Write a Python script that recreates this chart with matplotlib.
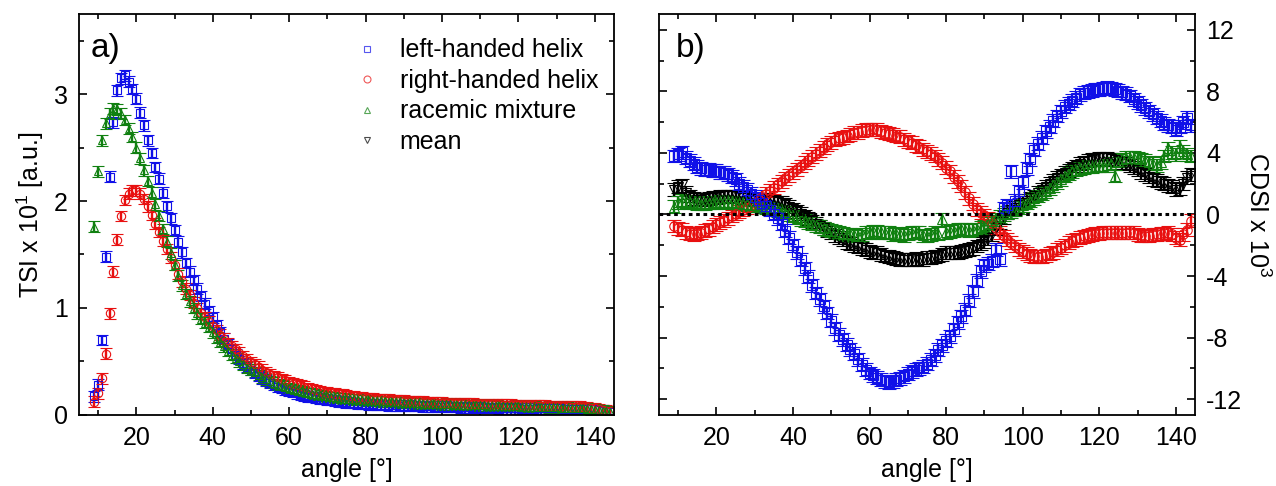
import numpy as np
import matplotlib
matplotlib.use("Agg")
import matplotlib.pyplot as plt
from matplotlib.lines import Line2D
from matplotlib.ticker import MultipleLocator

plt.rcParams['font.family'] = ['Liberation Sans', 'DejaVu Sans']
plt.rcParams['mathtext.fontset'] = 'custom'
plt.rcParams['mathtext.rm'] = 'Liberation Sans'
plt.rcParams['axes.unicode_minus'] = False

# ---------------- data ----------------
angle = list(range(9, 145))  # scattering angle [deg]

# panel a: TSI x 10^1
tsi_left = [
    0.17, 0.28, 0.70, 1.48, 2.23, 2.74, 3.04, 3.15, 3.18, 3.12,
    3.05, 2.96, 2.83, 2.71, 2.57, 2.45, 2.32, 2.21, 2.08, 1.95,
    1.84, 1.73, 1.62, 1.52, 1.42, 1.34, 1.26, 1.18, 1.11, 1.04,
    0.97, 0.91, 0.84, 0.77, 0.71, 0.66, 0.61, 0.56, 0.52, 0.48,
    0.45, 0.42, 0.39, 0.36, 0.34, 0.32, 0.30, 0.28, 0.26, 0.25,
    0.23, 0.22, 0.21, 0.20, 0.19, 0.18, 0.17, 0.165, 0.16, 0.15,
    0.145, 0.14, 0.135, 0.13, 0.125, 0.12, 0.115, 0.11, 0.108, 0.105,
    0.10, 0.098, 0.096, 0.094, 0.092, 0.09, 0.088, 0.087, 0.086, 0.085,
    0.084, 0.083, 0.082, 0.081, 0.080, 0.079, 0.078, 0.077, 0.076, 0.075,
    0.074, 0.073, 0.072, 0.071, 0.070, 0.069, 0.068, 0.067, 0.066, 0.065,
    0.064, 0.063, 0.062, 0.061, 0.060, 0.060, 0.059, 0.059, 0.058, 0.058,
    0.057, 0.057, 0.056, 0.056, 0.056, 0.056, 0.057, 0.058, 0.058, 0.058,
    0.058, 0.058, 0.057, 0.056, 0.055, 0.054, 0.054, 0.055, 0.056, 0.055,
    0.052, 0.048, 0.042, 0.036, 0.030, 0.025]
tsi_right = [
    0.12, 0.20, 0.34, 0.57, 0.95, 1.34, 1.64, 1.86, 2.01, 2.07,
    2.10, 2.10, 2.07, 2.02, 1.95, 1.87, 1.79, 1.71, 1.63, 1.55,
    1.47, 1.40, 1.32, 1.25, 1.18, 1.12, 1.05, 1.00, 0.95, 0.91,
    0.87, 0.83, 0.79, 0.75, 0.71, 0.67, 0.64, 0.61, 0.58, 0.55,
    0.52, 0.49, 0.47, 0.45, 0.42, 0.40, 0.38, 0.36, 0.35, 0.33,
    0.32, 0.30, 0.29, 0.28, 0.27, 0.26, 0.25, 0.24, 0.23, 0.22,
    0.21, 0.205, 0.20, 0.195, 0.19, 0.185, 0.18, 0.175, 0.17, 0.165,
    0.16, 0.156, 0.152, 0.148, 0.145, 0.142, 0.14, 0.138, 0.136, 0.134,
    0.132, 0.13, 0.128, 0.126, 0.124, 0.122, 0.12, 0.118, 0.116, 0.114,
    0.112, 0.11, 0.109, 0.108, 0.107, 0.106, 0.105, 0.104, 0.103, 0.102,
    0.10, 0.099, 0.098, 0.097, 0.096, 0.095, 0.094, 0.093, 0.092, 0.091,
    0.09, 0.089, 0.088, 0.087, 0.086, 0.085, 0.084, 0.083, 0.082, 0.081,
    0.08, 0.079, 0.078, 0.077, 0.076, 0.075, 0.074, 0.072, 0.07, 0.066,
    0.062, 0.057, 0.05, 0.042, 0.035, 0.03]
tsi_racemic = [
    1.76, 2.28, 2.57, 2.73, 2.82, 2.87, 2.86, 2.82, 2.76, 2.68,
    2.60, 2.50, 2.40, 2.29, 2.19, 2.08, 1.97, 1.86, 1.74, 1.62,
    1.51, 1.40, 1.30, 1.21, 1.13, 1.06, 1.00, 0.95, 0.90, 0.86,
    0.82, 0.77, 0.72, 0.68, 0.64, 0.60, 0.56, 0.53, 0.50, 0.47,
    0.44, 0.42, 0.40, 0.37, 0.35, 0.33, 0.31, 0.30, 0.28, 0.27,
    0.26, 0.25, 0.24, 0.23, 0.22, 0.21, 0.20, 0.195, 0.19, 0.18,
    0.175, 0.17, 0.165, 0.16, 0.155, 0.15, 0.147, 0.144, 0.141, 0.138,
    0.135, 0.132, 0.13, 0.128, 0.126, 0.124, 0.122, 0.12, 0.118, 0.116,
    0.114, 0.112, 0.11, 0.108, 0.106, 0.104, 0.102, 0.10, 0.099, 0.098,
    0.097, 0.096, 0.095, 0.094, 0.093, 0.092, 0.091, 0.09, 0.089, 0.088,
    0.087, 0.086, 0.085, 0.084, 0.083, 0.082, 0.081, 0.08, 0.079, 0.078,
    0.077, 0.076, 0.075, 0.074, 0.073, 0.072, 0.071, 0.07, 0.069, 0.068,
    0.067, 0.066, 0.065, 0.064, 0.063, 0.062, 0.061, 0.06, 0.058, 0.055,
    0.05, 0.045, 0.04, 0.035, 0.03, 0.025]

# panel b: CDSI x 10^3
cdsi_left = [
    3.8, 3.9, 4.05, 3.7, 3.5, 3.3, 3.1, 3.0, 2.9, 2.9,
    2.85, 2.85, 2.75, 2.7, 2.6, 2.45, 2.3, 2.0, 1.8, 1.6,
    1.35, 1.15, 0.95, 0.75, 0.55, 0.3, 0.05, -0.25, -0.6, -1.05,
    -1.5, -2.0, -2.45, -2.95, -3.5, -4.05, -4.6, -5.1, -5.5, -5.95,
    -6.4, -6.9, -7.4, -7.8, -8.1, -8.45, -8.75, -9.05, -9.4, -9.75,
    -10.1, -10.3, -10.45, -10.6, -10.75, -10.85, -10.9, -10.85, -10.75, -10.65,
    -10.5, -10.35, -10.2, -10.1, -10.0, -9.9, -9.7, -9.45, -9.15, -8.8,
    -8.5, -8.2, -7.9, -7.45, -7.0, -6.6, -6.2, -5.6, -5.0, -4.3,
    -3.7, -3.3, -3.2, -3.0, -2.3, -2.9, 0.4, 0.6, 2.8, 0.9,
    1.5, 2.1, 3.0, 3.6, 4.2, 4.6, 5.0, 5.4, 5.7, 6.1,
    6.4, 6.7, 7.0, 7.2, 7.4, 7.6, 7.8, 7.9, 8.0, 8.05,
    8.1, 8.15, 8.2, 8.25, 8.2, 8.15, 8.05, 7.95, 7.85, 7.7,
    7.5, 7.3, 7.1, 6.9, 6.7, 6.5, 6.3, 6.1, 5.9, 5.8,
    5.7, 5.5, 5.7, 6.0, 6.3, 5.8]
cdsi_right = [
    -0.75, -0.9, -1.0, -1.15, -1.25, -1.3, -1.25, -1.2, -1.05, -0.95,
    -0.8, -0.65, -0.5, -0.4, -0.25, -0.1, 0.05, 0.2, 0.3, 0.45,
    0.55, 0.75, 0.95, 1.15, 1.35, 1.55, 1.75, 1.95, 2.15, 2.35,
    2.55, 2.75, 2.95, 3.15, 3.35, 3.55, 3.75, 3.95, 4.15, 4.35,
    4.55, 4.7, 4.85, 4.95, 5.0, 5.1, 5.2, 5.3, 5.35, 5.45,
    5.5, 5.52, 5.55, 5.5, 5.4, 5.3, 5.25, 5.2, 5.1, 5.05,
    4.9, 4.75, 4.65, 4.5, 4.4, 4.25, 4.1, 3.95, 3.8, 3.6,
    3.35, 3.05, 2.8, 2.45, 2.15, 1.85, 1.45, 1.05, 0.7, 0.35,
    0.1, -0.05, -0.25, -0.55, -0.85, -1.15, -1.4, -1.6, -1.85, -2.05,
    -2.25, -2.4, -2.55, -2.65, -2.72, -2.75, -2.72, -2.65, -2.55, -2.45,
    -2.3, -2.15, -2.0, -1.85, -1.7, -1.6, -1.5, -1.42, -1.35, -1.3,
    -1.25, -1.22, -1.2, -1.2, -1.2, -1.2, -1.2, -1.2, -1.18, -1.15,
    -1.2, -1.3, -1.35, -1.4, -1.38, -1.32, -1.3, -1.25, -1.22, -1.2,
    -1.3, -1.5, -1.65, -1.3, -1.0, -0.4]
cdsi_racemic = [
    0.5, 0.8, 0.9, 0.85, 0.8, 0.75, 0.72, 0.7, 0.72, 0.75,
    0.78, 0.8, 0.82, 0.82, 0.8, 0.78, 0.75, 0.72, 0.7, 0.65,
    0.62, 0.6, 0.55, 0.52, 0.48, 0.42, 0.35, 0.28, 0.2, 0.1,
    0.0, -0.1, -0.2, -0.3, -0.4, -0.5, -0.6, -0.7, -0.8, -0.9,
    -1.0, -1.05, -1.1, -1.2, -1.25, -1.3, -1.3, -1.35, -1.4, -1.3,
    -1.2, -1.15, -1.1, -1.1, -1.15, -1.2, -1.2, -1.3, -1.25, -1.3,
    -1.35, -1.25, -1.2, -1.15, -1.2, -1.35, -1.4, -1.3, -1.2, -1.25,
    -0.3, -1.15, -1.1, -1.05, -1.0, -0.95, -1.0, -1.05, -1.0, -0.95,
    -0.85, -0.75, -0.6, -0.45, -0.3, -0.15, 0.0, 0.1, 0.2, 0.3,
    0.45, 0.6, 0.75, 0.9, 1.05, 1.2, 1.35, 1.5, 1.7, 1.9,
    2.1, 2.3, 2.5, 2.65, 2.8, 2.9, 3.0, 3.05, 3.1, 3.1,
    3.15, 3.15, 3.15, 3.2, 3.3, 2.5, 3.5, 3.6, 3.7, 3.7,
    3.7, 3.65, 3.6, 3.5, 3.4, 3.3, 3.2, 3.4, 3.8, 4.3,
    4.0, 3.9, 4.4, 4.1, 3.9, 3.8]
cdsi_mean = [
    1.6, 1.8, 1.9, 1.4, 1.2, 1.05, 0.95, 0.95, 1.0, 1.05,
    1.1, 1.12, 1.15, 1.18, 1.2, 1.2, 1.18, 1.15, 1.1, 1.05,
    1.0, 0.95, 0.95, 0.95, 0.95, 0.9, 0.85, 0.8, 0.75, 0.65,
    0.5, 0.35, 0.2, 0.05, -0.1, -0.25, -0.45, -0.6, -0.75, -0.9,
    -1.05, -1.2, -1.35, -1.5, -1.65, -1.8, -1.9, -2.0, -2.1, -2.2,
    -2.3, -2.4, -2.45, -2.5, -2.6, -2.7, -2.75, -2.8, -2.85, -2.9,
    -2.95, -2.95, -2.9, -2.85, -2.95, -2.9, -2.8, -2.8, -2.75, -2.7,
    -2.6, -2.5, -2.5, -2.5, -2.45, -2.4, -2.35, -2.3, -2.2, -2.05,
    -1.9, -1.75, -1.55, -1.3, -0.9, -0.5, -0.2, 0.1, 0.3, 0.45,
    0.6, 0.75, 0.9, 1.05, 1.2, 1.4, 1.6, 1.8, 2.0, 2.2,
    2.4, 2.55, 2.7, 2.85, 3.0, 3.15, 3.3, 3.4, 3.5, 3.55,
    3.6, 3.65, 3.65, 3.65, 3.6, 3.55, 3.5, 3.4, 3.3, 3.2,
    3.05, 2.9, 2.75, 2.6, 2.45, 2.3, 2.2, 2.1, 2.0, 1.9,
    1.8, 1.6, 1.7, 2.0, 2.4, 2.6]

# error bar half widths (estimated)
err_tsi = 0.05
err_cdsi = 0.42

labels = ['left-handed helix', 'right-handed helix', 'racemic mixture', 'mean']
colors = ['#1010e8', '#e81010', '#108010', '#000000']
markers = ['s', 'o', '^', 'v']

# ---------------- figure ----------------
fig = plt.figure(figsize=(12.76, 4.86), dpi=100)
axA = fig.add_axes([0.0619, 0.1471, 0.4193, 0.8231])
axB = fig.add_axes([0.5165, 0.1471, 0.4200, 0.8231])

def eb(ax, y, err, c, m, ms, cap):
    ax.errorbar(angle, y, yerr=err, fmt=m, ms=ms, mfc='none', mec=c, mew=0.8,
                ecolor=c, elinewidth=1.7, capsize=cap, capthick=1.7, ls='none')

# panel a
for y, i in [(tsi_left, 0), (tsi_right, 1), (tsi_racemic, 2)]:
    eb(axA, y, err_tsi, colors[i], markers[i], 6.0, 4.0)

# panel b
for y, i in [(cdsi_mean, 3), (cdsi_right, 1), (cdsi_racemic, 2), (cdsi_left, 0)]:
    eb(axB, y, err_cdsi, colors[i], markers[i], 6.8, 4.8)
axB.axhline(0, color='black', ls=(0, (1.2, 1.2)), lw=2.2, zorder=5)

for ax in (axA, axB):
    ax.set_xlim(5, 145)
    ax.xaxis.set_major_locator(MultipleLocator(20))
    ax.xaxis.set_minor_locator(MultipleLocator(10))
    ax.tick_params(which='both', direction='in', top=True, right=True,
                   labelsize=18, width=1.2)
    ax.tick_params(which='major', length=6)
    ax.tick_params(which='minor', length=3.5)
    ax.tick_params(axis='x', pad=8)
    for s in ax.spines.values():
        s.set_linewidth(1.3)
    ax.set_xlabel('angle [°]', fontsize=18, labelpad=6)

axA.set_ylim(0, 3.75)
axA.yaxis.set_major_locator(MultipleLocator(1))
axA.yaxis.set_minor_locator(MultipleLocator(0.5))
axA.set_ylabel(r'TSI x 10$^{1}$ [a.u.]', fontsize=18, labelpad=6)
axA.tick_params(axis='y', pad=8)

axB.set_ylim(-13, 13)
axB.yaxis.set_major_locator(MultipleLocator(4))
axB.yaxis.set_minor_locator(MultipleLocator(2))
axB.tick_params(axis='y', labelleft=False, labelright=True, pad=8)
axB.yaxis.set_label_position('right')
axB.set_ylabel(r'CDSI x 10$^{3}$', fontsize=18, rotation=-90, labelpad=1, va='bottom')

axA.text(0.022, 0.915, 'a)', transform=axA.transAxes, fontsize=24, va='center')
axB.text(0.032, 0.915, 'b)', transform=axB.transAxes, fontsize=24, va='center')

handles = [Line2D([], [], ls='none', marker=m, ms=5, mfc='none', mec=c, mew=0.8, alpha=0.7)
           for m, c in zip(markers, colors)]
axA.legend(handles, labels, loc='upper left', bbox_to_anchor=(0.52, 0.94),
           frameon=False, fontsize=18, handlelength=0.8, handletextpad=0.9,
           labelspacing=0.26, borderpad=0, borderaxespad=0)

fig.savefig('out.png', dpi=100)
